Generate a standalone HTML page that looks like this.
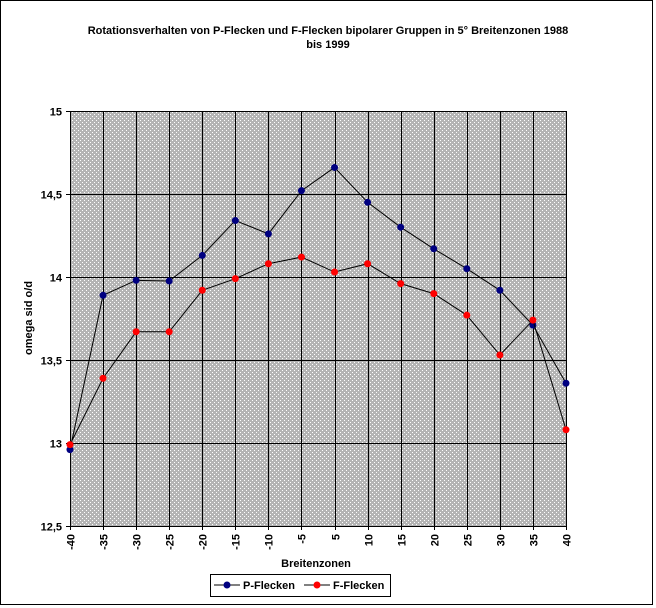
<!DOCTYPE html>
<html><head><meta charset="utf-8"><style>
html,body{margin:0;padding:0;background:#fff;}
svg{display:block;font-family:"Liberation Sans",Arial,sans-serif;}
</style></head><body>
<svg width="656" height="608" viewBox="0 0 656 608">
<defs>
<pattern id="dots" width="4" height="4" patternUnits="userSpaceOnUse">
<rect width="4" height="4" fill="#b4b4b4"/>
<rect x="0" y="0" width="1" height="1" fill="#fff"/>
<rect x="2" y="2" width="1" height="1" fill="#fff"/>
</pattern>
</defs>
<rect x="0.5" y="0.5" width="652" height="604" fill="#fff" stroke="#000"/>
<text x="328" y="34" text-anchor="middle" font-size="11" font-weight="bold">Rotationsverhalten von P-Flecken und F-Flecken bipolarer Gruppen in 5° Breitenzonen  1988</text>
<text x="328" y="48" text-anchor="middle" font-size="11" font-weight="bold">bis 1999</text>
<rect x="70" y="111" width="496" height="415" fill="url(#dots)"/>
<g id="grid"></g>
<g id="axes"></g>
<g id="series"></g>
<text transform="translate(32,318) rotate(-90)" text-anchor="middle" font-size="11" font-weight="bold">omega sid o/d</text>
<text x="316" y="567" text-anchor="middle" font-size="11" font-weight="bold">Breitenzonen</text>
<g>
<rect x="210.5" y="574.5" width="180" height="22" fill="#fff" stroke="#000"/>
<line x1="214" y1="585" x2="240" y2="585" stroke="#000"/>
<circle cx="227" cy="585" r="3.5" fill="#000080"/>
<text x="243" y="589" font-size="11" font-weight="bold">P-Flecken</text>
<line x1="304" y1="585" x2="330" y2="585" stroke="#000"/>
<circle cx="317" cy="585" r="3.5" fill="#ff0000"/>
<text x="333" y="589" font-size="11" font-weight="bold">F-Flecken</text>
</g>
</svg>
<script>
const categories = ["-40","-35","-30","-25","-20","-15","-10","-5","5","10","15","20","25","30","35","40"];
const pValues = [12.96,13.89,13.98,13.976,14.13,14.34,14.26,14.52,14.66,14.45,14.30,14.17,14.05,13.92,13.71,13.36];
const fValues = [12.99,13.39,13.67,13.67,13.92,13.99,14.08,14.12,14.03,14.08,13.96,13.90,13.77,13.53,13.74,13.08];
const yTicks = [12.5,13,13.5,14,14.5,15];
const yTickLabels = ["12,5","13","13,5","14","14,5","15"];

const NS = "http://www.w3.org/2000/svg";
const X0 = 70, X1 = 566, Y0 = 526, Y1 = 111, YMIN = 12.5, YMAX = 15;
function xPos(i){ return X0 + i*(X1-X0)/(categories.length-1); }
function yPos(v){ return Y0 - (v-YMIN)/(YMAX-YMIN)*(Y0-Y1); }
function mk(tag, attrs, parent){ const e=document.createElementNS(NS,tag); for(const k in attrs) e.setAttribute(k,attrs[k]); parent.appendChild(e); return e; }
const grid=document.getElementById('grid'), axes=document.getElementById('axes'), series=document.getElementById('series');
yTicks.forEach((t,i)=>{
  const y=Math.round(yPos(t))+0.5;
  const l=mk('line',{x1:X0-4,y1:y,x2:X1,y2:y,stroke:'#000','stroke-width':1},grid);
  
  
  const tx=mk('text',{x:X0-8,y:y+4,'text-anchor':'end','font-size':11,'font-weight':'bold'},axes);
  tx.textContent=yTickLabels[i];
  
  
});
categories.forEach((c,i)=>{
  const x=Math.round(xPos(i))+0.5;
  const l=mk('line',{x1:x,y1:Y1,x2:x,y2:Y0+4,stroke:'#000','stroke-width':1},grid);
  
  
  const tx=mk('text',{transform:`translate(${x+4},${Y0+8}) rotate(-90)`,'text-anchor':'end','font-size':11,'font-weight':'bold'},axes);
  tx.textContent=c;
  
  
});
function drawSeries(vals, name, color){
  const pts=vals.map((v,i)=>xPos(i)+','+yPos(v)).join(' ');
  const pl=mk('polyline',{points:pts,fill:'none',stroke:'#000','stroke-width':1},series);
  
  
  vals.forEach((v,i)=>{
    const m=mk('circle',{cx:xPos(i),cy:yPos(v),r:3.5,fill:color},series);
    
    
  });
}
drawSeries(pValues,'p-flecken','#000080');
drawSeries(fValues,'f-flecken','#ff0000');
</script>
</body></html>
